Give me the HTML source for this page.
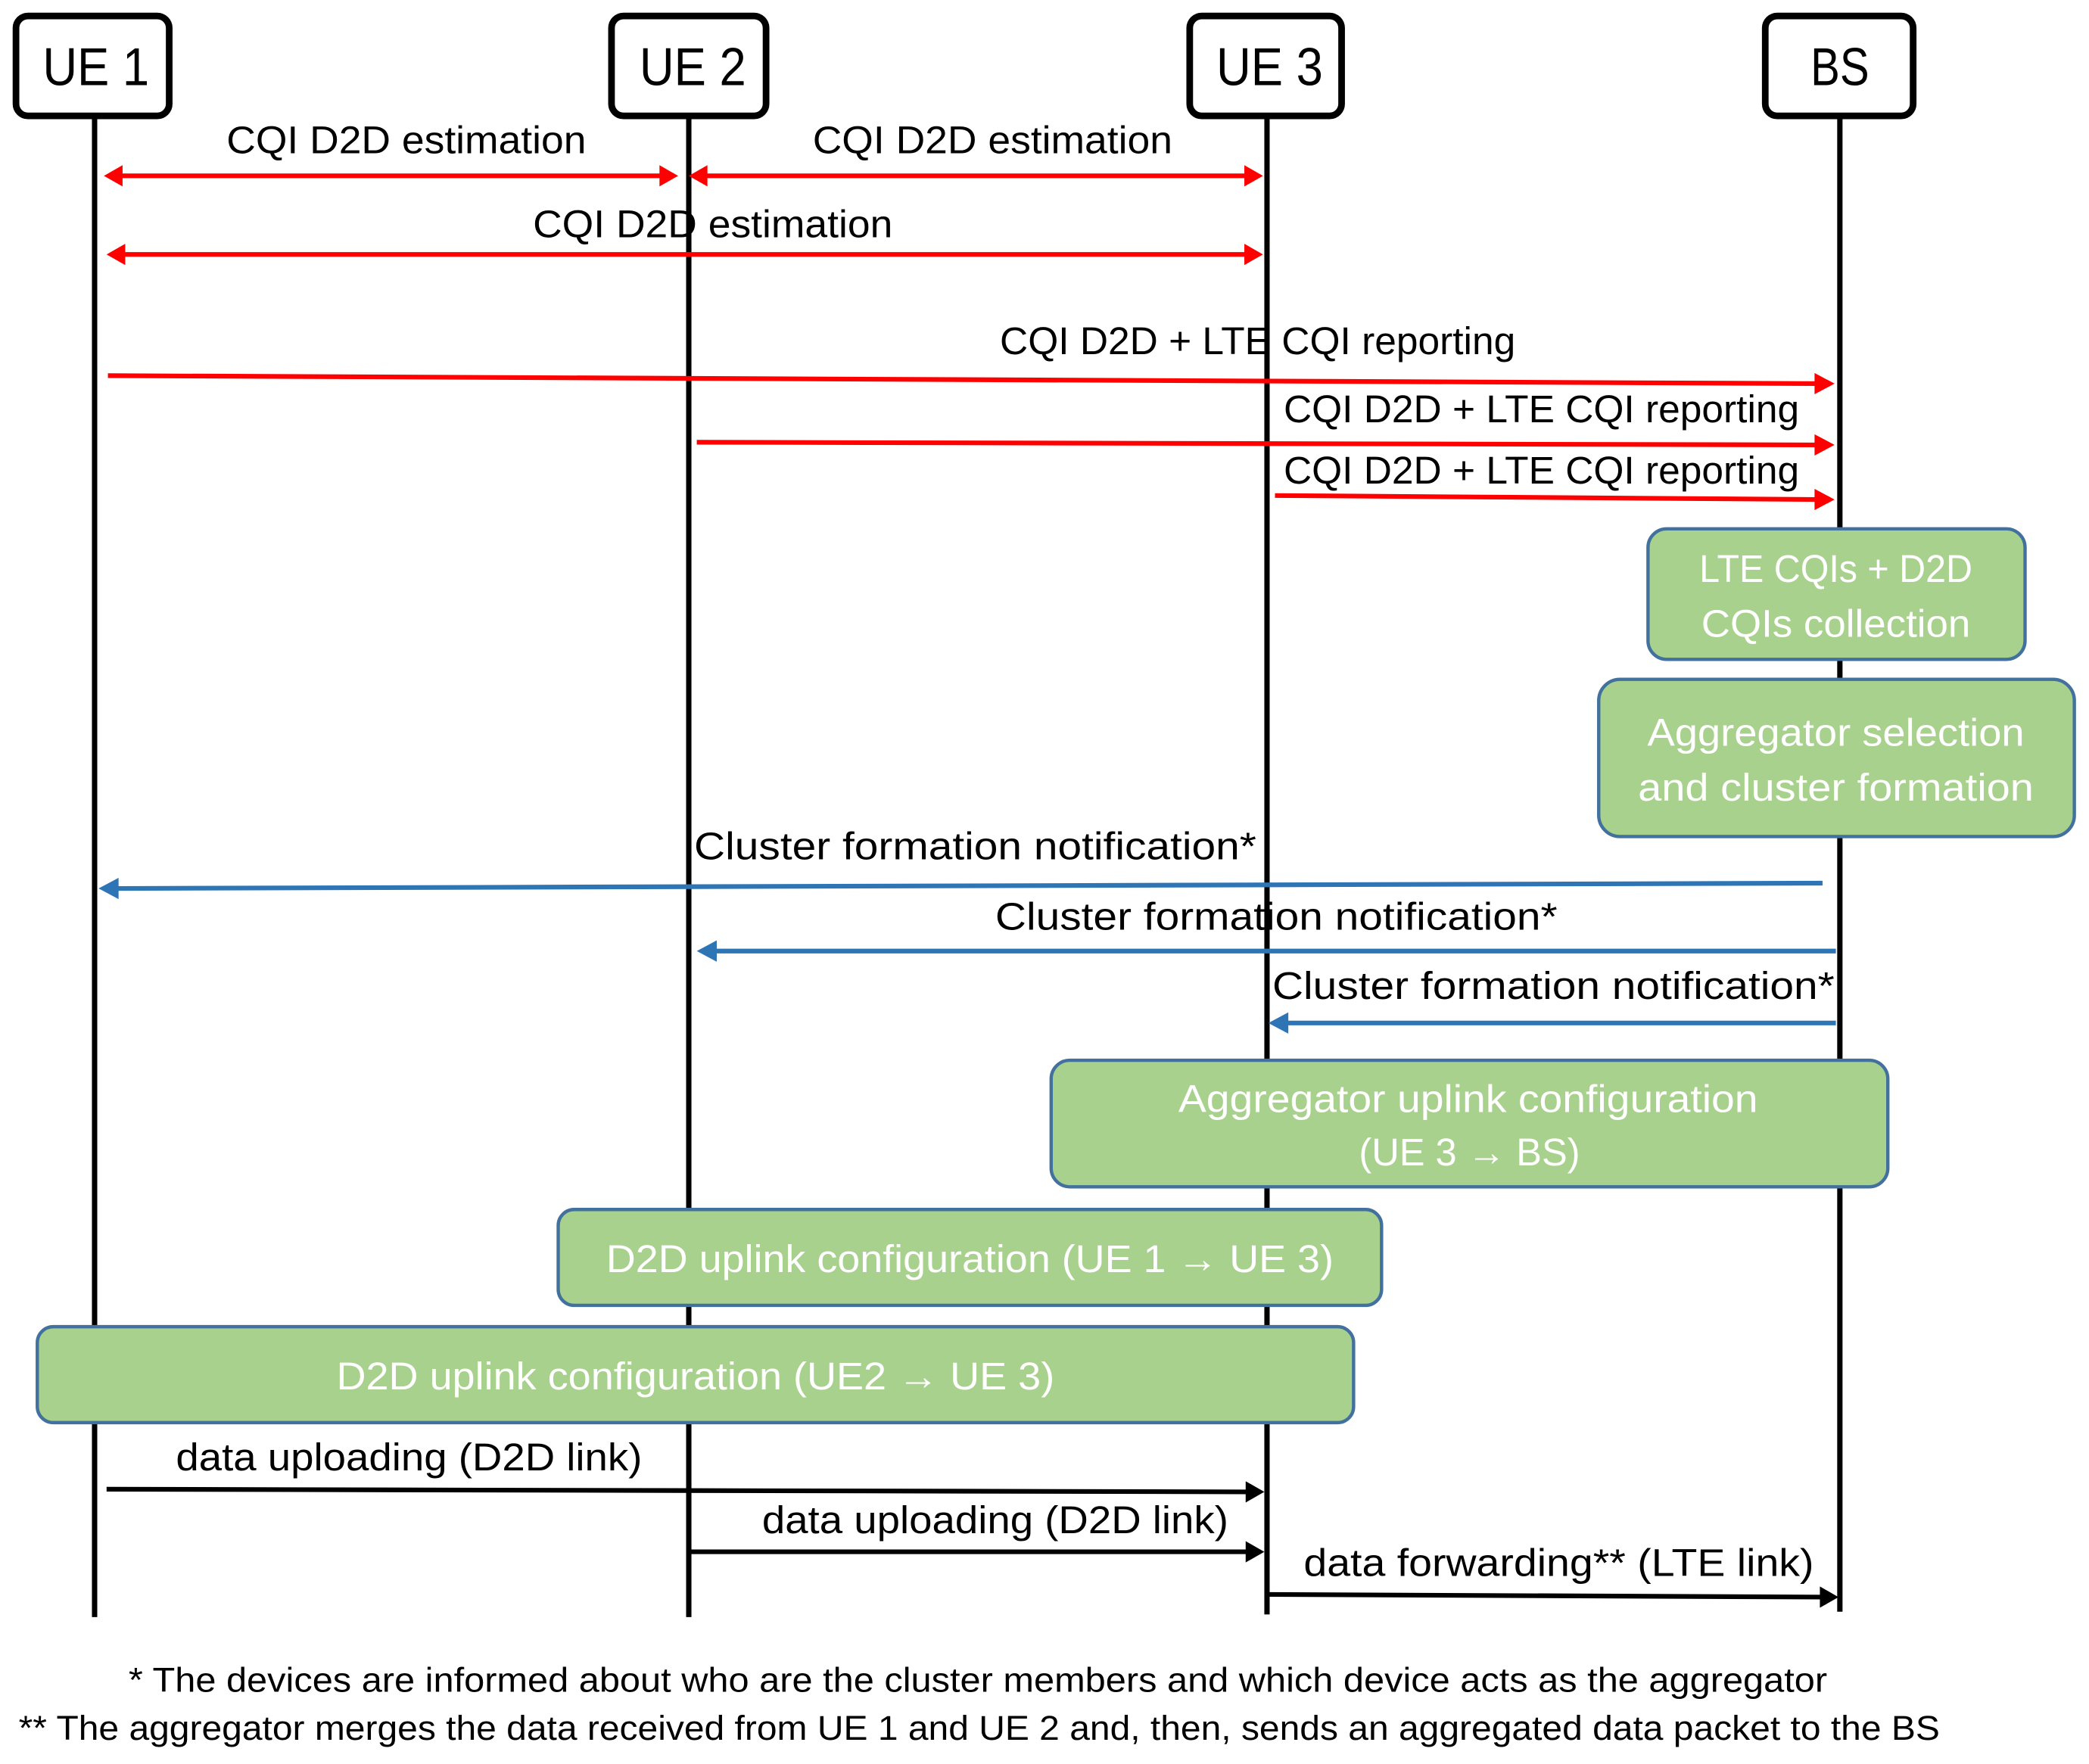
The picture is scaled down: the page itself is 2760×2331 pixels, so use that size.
<!DOCTYPE html>
<html><head><meta charset="utf-8"><style>
html,body{margin:0;padding:0;background:#fff;}
svg{display:block;}
text{font-family:"Liberation Sans",sans-serif;}
</style></head><body>
<svg width="2760" height="2331" viewBox="0 0 1568 1324.3" preserveAspectRatio="none" xmlns="http://www.w3.org/2000/svg">
<defs>
<marker id="r" markerWidth="6" markerHeight="6" refX="5" refY="3" orient="auto" markerUnits="userSpaceOnUse" viewBox="0 0 6 6"><path d="M0,0 L6,3 L0,6 z" fill="#ff0000"/></marker>
</defs>
<!-- lifelines -->
<g stroke="#000" stroke-width="4">
<line x1="71" y1="87" x2="71" y2="1214"/>
<line x1="517" y1="87" x2="517" y2="1214"/>
<line x1="951" y1="87" x2="951" y2="1212"/>
<line x1="1381" y1="87" x2="1381" y2="1210"/>
</g>
<!-- headers -->
<g fill="#fff" stroke="#000" stroke-width="5">
<rect x="12" y="12" width="115" height="75" rx="9"/>
<rect x="459" y="12" width="116" height="75" rx="9"/>
<rect x="893" y="12" width="114" height="75" rx="9"/>
<rect x="1325" y="12" width="111" height="75" rx="9"/>
</g>
<g font-size="40" text-anchor="middle" fill="#000">
<text x="72" y="64" textLength="80" lengthAdjust="spacingAndGlyphs">UE 1</text>
<text x="520" y="64" textLength="80" lengthAdjust="spacingAndGlyphs">UE 2</text>
<text x="953" y="64" textLength="80" lengthAdjust="spacingAndGlyphs">UE 3</text>
<text x="1381" y="64" textLength="44" lengthAdjust="spacingAndGlyphs">BS</text>
</g>
<!-- red arrows -->
<g stroke="#ff0000" stroke-width="3.5" fill="none">
<line x1="88" y1="132" x2="499" y2="132"/>
<line x1="527" y1="132" x2="938" y2="132"/>
<line x1="90" y1="191" x2="938" y2="191"/>
<line x1="81" y1="282" x2="1365" y2="288"/>
<line x1="523" y1="332" x2="1365" y2="334"/>
<line x1="957" y1="372" x2="1365" y2="375"/>
</g>
<g fill="#ff0000">
<path d="M78,132 L92,124 L92,140 z"/><path d="M509,132 L495,124 L495,140 z"/>
<path d="M517,132 L531,124 L531,140 z"/><path d="M948,132 L934,124 L934,140 z"/>
<path d="M80,191 L94,183 L94,199 z"/><path d="M948,191 L934,183 L934,199 z"/>
<path d="M1377,288 L1362,280 L1362,296 z"/>
<path d="M1377,334 L1362,326 L1362,342 z"/>
<path d="M1377,375 L1362,367 L1362,383 z"/>
</g>
<g font-size="29" text-anchor="middle" fill="#000">
<text x="305" y="115" textLength="270" lengthAdjust="spacingAndGlyphs">CQI D2D estimation</text>
<text x="745" y="115" textLength="270" lengthAdjust="spacingAndGlyphs">CQI D2D estimation</text>
<text x="535" y="178" textLength="270" lengthAdjust="spacingAndGlyphs">CQI D2D estimation</text>
<text x="944" y="266" textLength="387" lengthAdjust="spacingAndGlyphs">CQI D2D + LTE CQI reporting</text>
<text x="1157" y="317" textLength="387" lengthAdjust="spacingAndGlyphs">CQI D2D + LTE CQI reporting</text>
<text x="1157" y="363" textLength="387" lengthAdjust="spacingAndGlyphs">CQI D2D + LTE CQI reporting</text>
</g>
<!-- blue arrows -->
<g stroke="#2e75b6" stroke-width="3.5" fill="none">
<line x1="1368" y1="663" x2="88" y2="667"/>
<line x1="1378" y1="714" x2="536" y2="714"/>
<line x1="1378" y1="768" x2="965" y2="768"/>
</g>
<g fill="#2e75b6">
<path d="M74,667 L89,659 L89,675 z"/>
<path d="M523,714 L538,706 L538,722 z"/>
<path d="M952,768 L967,760 L967,776 z"/>
</g>
<g font-size="29" text-anchor="middle" fill="#000">
<text x="732" y="645" textLength="422" lengthAdjust="spacingAndGlyphs">Cluster formation notification*</text>
<text x="958" y="698" textLength="422" lengthAdjust="spacingAndGlyphs">Cluster formation notification*</text>
<text x="1166" y="750" textLength="422" lengthAdjust="spacingAndGlyphs">Cluster formation notification*</text>
</g>
<!-- green boxes -->
<g fill="#a9d18e" stroke="#41719c" stroke-width="2.5">
<rect x="1237" y="397" width="283" height="98" rx="14"/>
<rect x="1200" y="510" width="357" height="118" rx="16"/>
<rect x="789" y="796" width="628" height="95" rx="14"/>
<rect x="419" y="908" width="618" height="72" rx="12"/>
<rect x="28" y="996" width="988" height="72" rx="12"/>
</g>
<g font-size="29" text-anchor="middle" fill="#fff">
<text x="1378" y="437" textLength="205" lengthAdjust="spacingAndGlyphs">LTE CQIs + D2D</text>
<text x="1378" y="478" textLength="202" lengthAdjust="spacingAndGlyphs">CQIs collection</text>
<text x="1378" y="560" textLength="283" lengthAdjust="spacingAndGlyphs">Aggregator selection</text>
<text x="1378" y="601" textLength="297" lengthAdjust="spacingAndGlyphs">and cluster formation</text>
<text x="1102" y="835" textLength="435" lengthAdjust="spacingAndGlyphs">Aggregator uplink configuration</text>
<text x="1103" y="875" textLength="166" lengthAdjust="spacingAndGlyphs">(UE 3 → BS)</text>
<text x="728" y="955" textLength="546" lengthAdjust="spacingAndGlyphs">D2D uplink configuration (UE 1 → UE 3)</text>
<text x="522" y="1043" textLength="539" lengthAdjust="spacingAndGlyphs">D2D uplink configuration (UE2 → UE 3)</text>
</g>
<!-- black arrows -->
<g stroke="#000" stroke-width="3.5" fill="none">
<line x1="80" y1="1118" x2="937" y2="1120"/>
<line x1="518" y1="1165" x2="937" y2="1165"/>
<line x1="953" y1="1197" x2="1368" y2="1199"/>
</g>
<g fill="#000">
<path d="M949,1120 L935,1112 L935,1128 z"/>
<path d="M949,1165 L935,1157 L935,1173 z"/>
<path d="M1380,1199 L1366,1191 L1366,1207 z"/>
</g>
<g font-size="29" text-anchor="middle" fill="#000">
<text x="307" y="1104" textLength="350" lengthAdjust="spacingAndGlyphs">data uploading (D2D link)</text>
<text x="747" y="1151" textLength="350" lengthAdjust="spacingAndGlyphs">data uploading (D2D link)</text>
<text x="1170" y="1183" textLength="383" lengthAdjust="spacingAndGlyphs">data forwarding** (LTE link)</text>
</g>
<!-- footnotes -->
<g font-size="26" text-anchor="middle" fill="#000">
<text x="734" y="1270" textLength="1275" lengthAdjust="spacingAndGlyphs">* The devices are informed about who are the cluster members and which device acts as the aggregator</text>
<text x="735" y="1306" textLength="1442" lengthAdjust="spacingAndGlyphs">** The aggregator merges the data received from UE 1 and UE 2 and, then, sends an aggregated data packet to the BS</text>
</g>
</svg>
</body></html>
